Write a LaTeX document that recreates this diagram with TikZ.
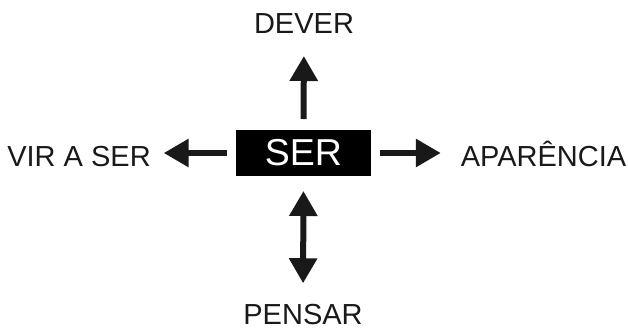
\documentclass[tikz,border=0pt]{standalone}
\usepackage{fontspec}
\setmainfont{Liberation Sans}
\usepackage{tikz}
\usetikzlibrary{arrows.meta}
\tikzstyle{caixa} = [rectangle, fill=black, text=white, inner sep=0pt,
    minimum width=135pt, minimum height=46pt, font=\fontsize{37.5}{40}\selectfont]
\tikzstyle{rotulo} = [inner sep=0pt, anchor=base, text=black!90,
    font=\fontsize{29}{34}\selectfont]

\begin{document}
\begin{tikzpicture}[x=1pt,y=-1pt,line width=6pt,color=black!90,
                    >={Triangle[length=25pt,width=27pt]}]
  \useasboundingbox (0,0) rectangle (628,330);

  \node[caixa]  (ser)       at (303.5,153) {SER};
  \node[rotulo] (dever)     at (304,33)    {DEVER};
  \node[rotulo] (pensar)    at (303,324.5) {PENSAR};
  \node[rotulo] (viraser)   at (79,166)    {VIR A SER};
  \node[rotulo] (aparencia) at (543.5,166) {APARÊNCIA};

  \draw[->, shorten <=8pt, shorten >=20pt] (ser.north) -- (dever.south);
  \draw[<->, shorten <=12pt, shorten >=18pt] (ser.south) -- (pensar.north);
  \draw[->, shorten <=6pt, shorten >=10pt] (ser.west) -- (ser.west -| viraser.east);
  \draw[->, shorten <=6pt, shorten >=17pt] (ser.east) -- (ser.east -| aparencia.west);
\end{tikzpicture}
\end{document}
